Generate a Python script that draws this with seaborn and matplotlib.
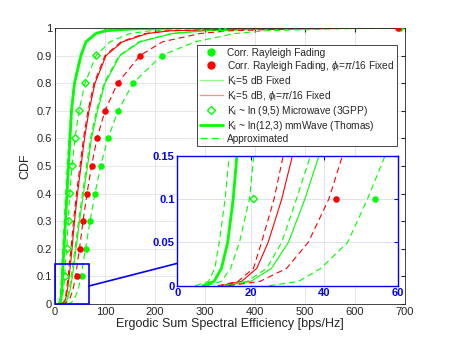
import numpy as np
import matplotlib
matplotlib.use("Agg")
import matplotlib.pyplot as plt
from matplotlib.lines import Line2D
import seaborn as sns

# ---- data (x = sum SE [bps/Hz], y = CDF) ----
lv = [0, 0.005, 0.02, 0.05, 0.1, 0.15, 0.2, 0.3, 0.4, 0.5, 0.6, 0.7, 0.8, 0.9, 0.95, 0.98, 0.99, 0.997, 1.0]

# K_l ~ ln(12,3) mmWave, simulated (thick)
mmw_x = [7, 10, 12, 13.7, 15.2, 16.2, 18, 21, 24, 27, 30, 33, 39, 52, 62, 82, 100, 160, 236]
# approximation for mmWave
mmw_apx_x = [5, 8.5, 10.2, 11.4, 13.0, 14.1, 15.5, 18.5, 21.5, 24.5, 28, 32, 38, 50, 62, 84, 105, 170, 300]
# approximation for ln(9,5) microwave
mic_apx_x = [8, 12, 14.5, 16.9, 19.6, 20.8, 23.5, 26.5, 29.5, 34, 40, 48, 60, 82, 110, 150, 190, 260, 700]
# K_l = 5 dB, phi fixed (red solid) and its approximation
kphi_x = [12, 17.5, 21.6, 24.7, 28.4, 31.3, 34, 39, 45, 52, 59, 68, 80, 102, 135, 185, 230, 400, 700]
kphi_apx_x = [11, 16.5, 20.7, 22.9, 26.3, 28.8, 32, 37, 43, 50, 57, 66, 78, 100, 132, 180, 225, 390, 700]
# K_l = 5 dB fixed (green solid) and its approximation
k5_x = [13, 20, 25.6, 30.2, 34.7, 38.5, 42, 49, 57, 65, 73, 85, 100, 130, 170, 235, 300, 450, 700]
k5_apx_x = [12.5, 19, 24.3, 28.4, 32.4, 36.2, 40, 47, 55, 63, 71, 83, 98, 128, 168, 232, 295, 440, 700]
# corr. Rayleigh approximations
rphi_apx_x = [14, 22.5, 29.7, 35.6, 41.2, 44.9, 49, 56, 64, 73, 84, 100, 125, 170, 215, 290, 350, 480, 700]
ray_apx_x = [25, 33, 39, 46.3, 51.7, 56.5, 61, 70, 80, 91, 106, 126, 156, 213, 280, 360, 420, 560, 700]

# simulated markers
mk_y = [0.1, 0.2, 0.3, 0.4, 0.5, 0.6, 0.7, 0.8, 0.9, 1.0]
ray_pts = [53.8, 63, 71, 81, 92, 107, 127, 157, 215, 690]
rphi_pts = [43.1, 50, 57, 65, 74, 85, 101, 126, 171, 687]
mic_pts = [20.8, 25, 28, 30, 35, 41, 49, 61, 83, 335]

GREEN = (0, 1, 0)
RED = (1, 0, 0)
BLUE = (0, 0, 1)

sns.set_style("white")
plt.rcParams["font.family"] = ["Liberation Sans", "DejaVu Sans"]
plt.rcParams["mathtext.fontset"] = "custom"
plt.rcParams["mathtext.rm"] = "Liberation Sans"
plt.rcParams["mathtext.it"] = "Liberation Sans:italic"

fig = plt.figure(figsize=(4.52, 3.39), dpi=100)
ax = fig.add_axes([55 / 452, 35 / 339, 350 / 452, 276 / 339])
axin = fig.add_axes([177.3 / 452, 53.3 / 339, 220.7 / 452, 130 / 339])

DASH = (0, (5.5, 3.5))


def draw(a, thin):
    line = dict(estimator=None, sort=False, legend=False, ax=a)
    sns.lineplot(x=k5_x, y=lv, color=GREEN, lw=thin, **line)
    sns.lineplot(x=kphi_x, y=lv, color=RED, lw=thin, **line)
    sns.lineplot(x=mmw_x, y=lv, color=GREEN, lw=2.0, **line)
    for xs, c in [(mmw_apx_x, GREEN), (mic_apx_x, GREEN), (kphi_apx_x, RED),
                  (k5_apx_x, GREEN), (rphi_apx_x, RED), (ray_apx_x, GREEN)]:
        sns.lineplot(x=xs, y=lv, color=c, lw=thin, linestyle=DASH, **line)
    sns.scatterplot(x=ray_pts, y=mk_y, color=GREEN, s=22, edgecolor=GREEN,
                    linewidth=0, ax=a, legend=False, zorder=5)
    sns.scatterplot(x=rphi_pts, y=mk_y, color=RED, s=22, edgecolor=RED,
                    linewidth=0, ax=a, legend=False, zorder=5)
    sns.scatterplot(x=mic_pts, y=mk_y, marker="D", s=14, facecolor="none",
                    edgecolor=GREEN, linewidth=1.0, ax=a, legend=False, zorder=5)


draw(ax, 0.8)
draw(axin, 0.8)

# main axes styling (MATLAB look)
ax.set_xlim(0, 700)
ax.set_ylim(0, 1)
ax.set_xticks(np.arange(0, 701, 100))
ax.set_yticks(np.round(np.arange(0, 1.01, 0.1), 1))
ax.set_yticklabels(["0", "0.1", "0.2", "0.3", "0.4", "0.5", "0.6", "0.7", "0.8", "0.9", "1"])
ax.grid(True, color="#e3e3e3", lw=0.6)
ax.tick_params(direction="in", length=3, labelsize=8, colors="#262626",
               top=True, right=True, pad=2)
for s in ax.spines.values():
    s.set_color("#262626")
    s.set_linewidth(0.6)
ax.set_xlabel("Ergodic Sum Spectral Efficiency [bps/Hz]", fontsize=9, color="#262626", labelpad=1)
ax.set_ylabel("CDF", fontsize=9, color="#262626", labelpad=4)

# zoom box + connector
ax.add_patch(plt.Rectangle((0, 0), 67.5, 0.144, fill=False, ec=BLUE, lw=1.2,
                           clip_on=False, zorder=6))
ax.plot([67.5, 244], [0.065, 0.147], color=BLUE, lw=1.2, clip_on=False, zorder=6)

# inset styling
axin.set_xlim(0, 60)
axin.set_ylim(0, 0.15)
axin.set_xticks([0, 20, 40, 60])
axin.set_yticks([0, 0.05, 0.1, 0.15])
axin.set_yticklabels(["0", "0.05", "0.1", "0.15"])
axin.grid(True, color="#dcdcf5", lw=0.6)
axin.tick_params(direction="in", length=3, labelsize=8, colors=BLUE,
                 top=True, right=True, pad=2)
for lab in axin.get_xticklabels() + axin.get_yticklabels():
    lab.set_fontweight("bold")
for s in axin.spines.values():
    s.set_color(BLUE)
    s.set_linewidth(1.0)
axin.set_xlabel("")
axin.set_ylabel("")

handles = [
    Line2D([], [], ls="none", marker="o", ms=5, color=GREEN),
    Line2D([], [], ls="none", marker="o", ms=5, color=RED),
    Line2D([], [], color=(0.55, 1, 0.55), lw=0.9),
    Line2D([], [], color=(1, 0.55, 0.55), lw=0.9),
    Line2D([], [], ls="none", marker="D", ms=4, mfc="none", mec=GREEN, mew=1.0),
    Line2D([], [], color=GREEN, lw=2.0),
    Line2D([], [], color=GREEN, lw=0.9, ls=DASH),
]
labels = [
    "Corr. Rayleigh Fading",
    r"Corr. Rayleigh Fading, $\phi_\mathrm{l}$=$\pi$/16 Fixed",
    r"K$_\mathrm{l}$=5 dB Fixed",
    r"K$_\mathrm{l}$=5 dB, $\phi_\mathrm{l}$=$\pi$/16 Fixed",
    r"K$_\mathrm{l}$ ~ ln (9,5) Microwave (3GPP)",
    r"K$_\mathrm{l}$ ~ ln(12,3) mmWave (Thomas)",
    "Approximated",
]
leg = ax.legend(handles, labels, loc="upper right", bbox_to_anchor=(0.977, 0.937),
                fontsize=7.3, frameon=True, fancybox=False, framealpha=1,
                edgecolor="#262626", handlelength=2.3, handletextpad=0.4,
                labelspacing=0.1, borderpad=0.25, borderaxespad=0)
leg.get_frame().set_linewidth(0.6)
leg.set_zorder(10)

fig.savefig("out.png", dpi=100)
